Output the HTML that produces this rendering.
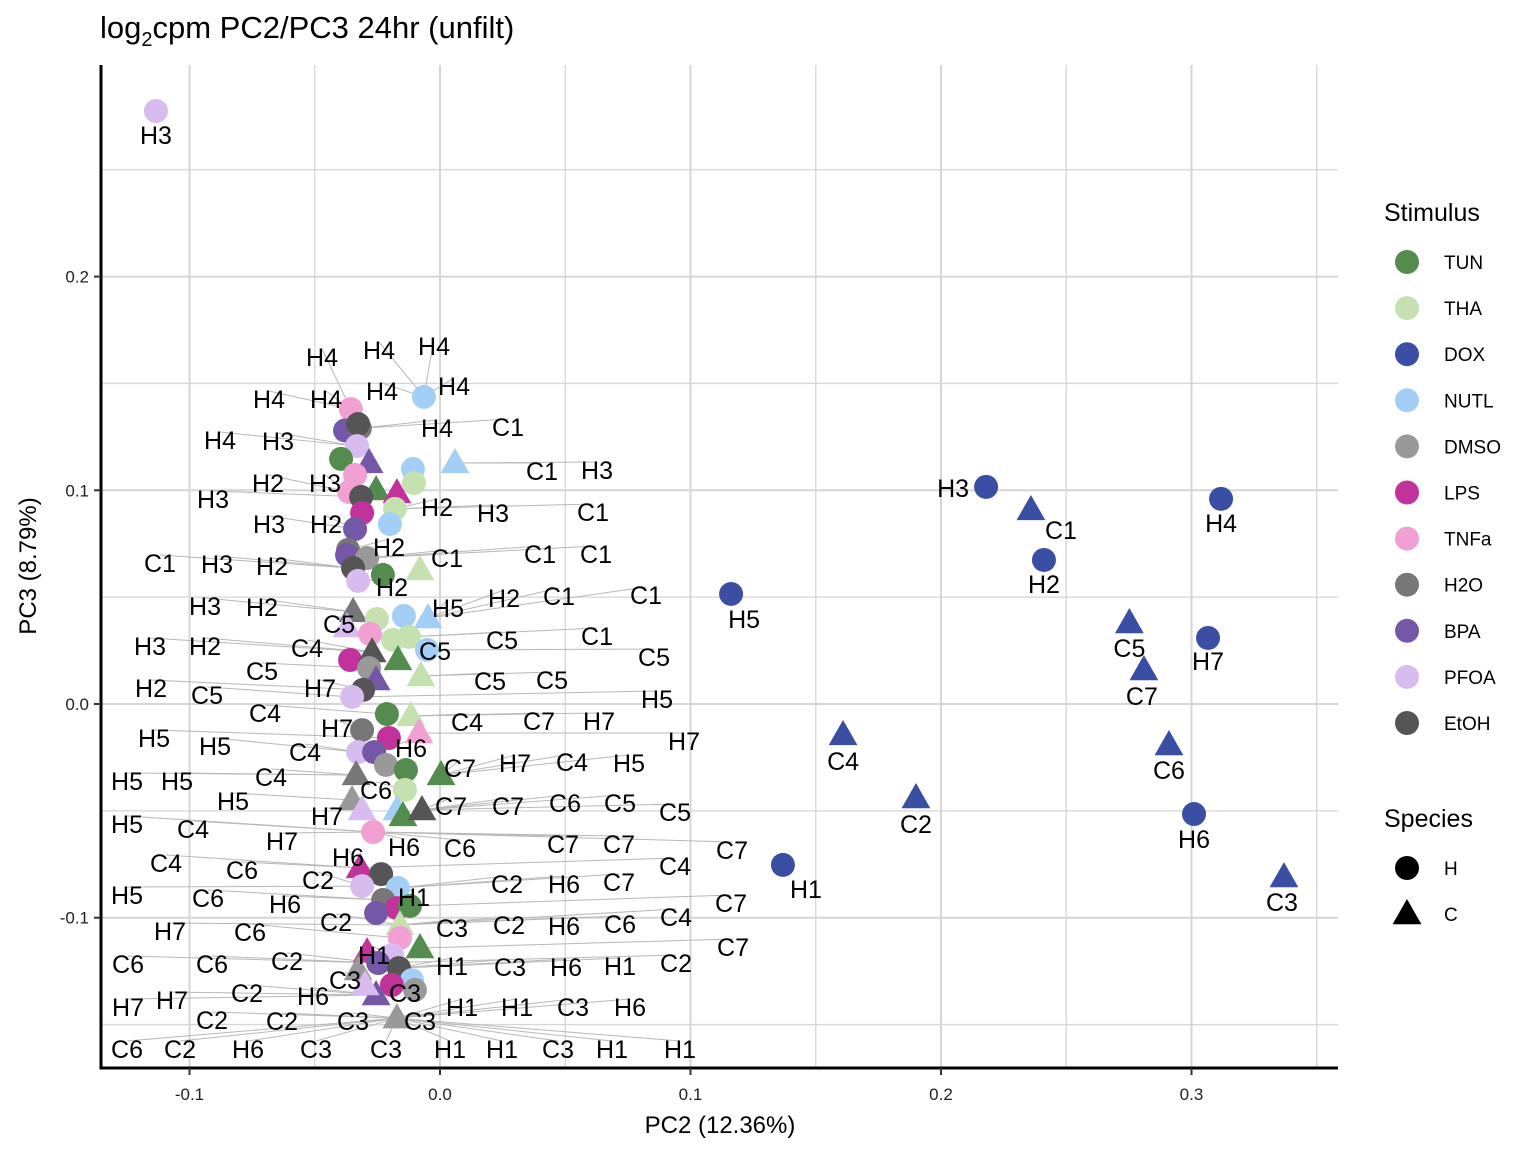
<!DOCTYPE html>
<html><head><meta charset="utf-8"><style>
body{margin:0;background:#fff;}
svg text{font-family:"Liberation Sans",sans-serif;}
</style></head><body>
<svg id="chart" width="1536" height="1152" xmlns="http://www.w3.org/2000/svg">
<rect width="1536" height="1152" fill="#fff"/>
<text x="100" y="38" font-size="31">log<tspan font-size="20" dy="8">2</tspan><tspan dy="-8">cpm PC2/PC3 24hr (unfilt)</tspan></text>
<g id="grid"></g><g id="lines"></g><g id="points"></g><g id="labels"></g><g id="axes"></g>
<text x="720" y="1133" font-size="24" text-anchor="middle">PC2 (12.36%)</text>
<text transform="translate(36,566) rotate(-90)" font-size="24" text-anchor="middle">PC3 (8.79%)</text>
<g id="legend"></g>
</svg>
<script>
const stimuli=["TUN","THA","DOX","NUTL","DMSO","LPS","TNFa","H2O","BPA","PFOA","EtOH"];
const colors={TUN:"#548b4e",THA:"#c5e1b0",DOX:"#3a4ea3",NUTL:"#a3cff6",DMSO:"#999999",LPS:"#c2329b",TNFa:"#f2a0d4",H2O:"#777777",BPA:"#7557a8",PFOA:"#d8bcf0",EtOH:"#555555"};
const xTicks=[-0.1,0,0.1,0.2,0.3];
const xTickLabels=["-0.1","0.0","0.1","0.2","0.3"];
const yTicks=[-0.1,0,0.1,0.2];
const yTickLabels=["-0.1","0.0","0.1","0.2"];
const ptStim=["TNFa","NUTL","BPA","H2O","EtOH","PFOA","TUN","BPA","NUTL","NUTL","TNFa","THA","TUN","LPS","TNFa","EtOH","THA","LPS","NUTL","BPA","H2O","BPA","DMSO","EtOH","TUN","PFOA","THA","H2O","THA","NUTL","NUTL","PFOA","TNFa","THA","THA","NUTL","LPS","EtOH","TUN","THA","DMSO","BPA","EtOH","PFOA","TUN","THA","TNFa","H2O","LPS","PFOA","BPA","DMSO","TUN","TUN","THA","H2O","DMSO","PFOA","NUTL","TUN","EtOH","TNFa","LPS","EtOH","PFOA","NUTL","H2O","LPS","BPA","TUN","THA","TNFa","TUN","LPS","PFOA","BPA","EtOH","NUTL","DMSO","LPS","DMSO","BPA","DMSO","PFOA"];
const ptSpecies=["H","H","H","H","H","H","H","C","H","C","H","H","C","C","H","H","H","H","H","H","H","H","H","H","H","H","C","C","H","H","C","C","H","H","H","H","H","C","C","C","H","C","H","H","H","C","C","H","H","H","H","H","H","C","H","C","C","C","C","C","C","H","C","H","H","H","H","H","H","H","C","H","C","C","H","H","H","H","C","H","H","C","C","C"];
const ptX=[-0.0356,-0.0064,-0.0379,-0.032,-0.0327,-0.0331,-0.0395,-0.0283,-0.0108,0.006,-0.0339,-0.0104,-0.0255,-0.0172,-0.0363,-0.0315,-0.018,-0.0311,-0.020,-0.0339,-0.0367,-0.0371,-0.0291,-0.0347,-0.0228,-0.0327,-0.008,-0.0347,-0.0252,-0.0144,-0.0048,-0.0371,-0.0279,-0.0188,-0.0124,-0.0052,-0.0359,-0.0271,-0.0168,-0.0076,-0.0283,-0.0255,-0.0307,-0.0351,-0.0212,-0.0116,-0.0084,-0.0311,-0.0204,-0.0327,-0.0263,-0.0216,-0.0136,0.0004,-0.014,-0.0335,-0.0351,-0.0311,-0.0172,-0.0148,-0.0072,-0.0267,-0.0319,-0.0235,-0.0311,-0.0168,-0.0227,-0.0172,-0.0255,-0.012,-0.016,-0.016,-0.008,-0.0291,-0.0192,-0.0247,-0.0164,-0.0112,-0.0327,-0.0192,-0.010,-0.0255,-0.0172,-0.0299];
const ptY=[0.138,0.1437,0.128,0.129,0.131,0.1207,0.1147,0.1128,0.110,0.1128,0.1072,0.1034,0.1001,0.0987,0.0992,0.0969,0.0913,0.0894,0.0842,0.0819,0.0721,0.0697,0.0683,0.0636,0.0604,0.0576,0.0627,0.0431,0.0398,0.0412,0.0402,0.036,0.0328,0.030,0.0314,0.0253,0.0206,0.0243,0.0206,0.0131,0.0168,0.0112,0.0066,0.0033,-0.0047,-0.0056,-0.0136,-0.0122,-0.0159,-0.0225,-0.0225,-0.0285,-0.0309,-0.0332,-0.0402,-0.0332,-0.0449,-0.0496,-0.0496,-0.0524,-0.0496,-0.0599,-0.0767,-0.0796,-0.0852,-0.0861,-0.0917,-0.0955,-0.0978,-0.0945,-0.1034,-0.1095,-0.1142,-0.1161,-0.1175,-0.1212,-0.1236,-0.1292,-0.1245,-0.1315,-0.1338,-0.1362,-0.147,-0.1315];
const outText=["H3","H4","H2","H5","H7","H6","H1","C1","C5","C7","C4","C6","C2","C3","H3"];
const outStim=["DOX","DOX","DOX","DOX","DOX","DOX","DOX","DOX","DOX","DOX","DOX","DOX","DOX","DOX","PFOA"];
const outSpecies=["H","H","H","H","H","H","H","C","C","C","C","C","C","C","H"];
const outX=[0.218,0.3118,0.2411,0.1162,0.3066,0.301,0.1369,0.2359,0.2752,0.281,0.1609,0.291,0.19,0.3369,-0.1134];
const outY=[0.1016,0.096,0.0674,0.0515,0.0309,-0.0515,-0.0753,0.0908,0.0379,0.0159,-0.0145,-0.0192,-0.044,-0.081,0.2775];
const outLabelPos=[[-33,2],[0,25],[0,25],[13,26],[0,24],[0,26],[23,25],[30,21],[0,26],[-2,27],[0,27],[0,26],[0,27],[-2,26],[0,25]];
const labelLayout=[
["H4",322,357],["H4",379,350],["H4",434,346],["H4",269,399],["H4",326,399],["H4",382,391],["H4",454,386],["H4",220,440],["H4",437,428],
["H3",278,441],["H3",213,499],["H3",325,483],["H3",597,470],["H3",493,513],["H3",269,524],["H3",217,564],["H3",205,606],["H3",150,646],
["C1",508,427],["C1",542,471],["C1",593,512],["C1",540,554],["C1",596,554],["C1",447,558],["C1",160,563],["C1",646,595],["C1",559,596],["C1",597,636],
["H2",268,483],["H2",437,507],["H2",326,524],["H2",389,547],["H2",272,566],["H2",392,587],["H2",504,598],["H2",262,607],["H2",205,646],["H2",151,688],
["H5",448,608],["H5",657,699],["H5",629,763],["H5",154,738],["H5",215,746],["H5",127,781],["H5",177,781],["H5",127,824],["H5",233,801],["H5",127,895],
["C5",339,624],["C5",502,640],["C5",435,651],["C5",654,657],["C5",262,671],["C5",490,681],["C5",552,680],["C5",207,695],["C5",620,803],["C5",675,812],
["C4",307,648],["C4",265,713],["C4",467,722],["C4",305,752],["C4",572,762],["C4",271,777],["C4",193,829],["C4",166,863],["C4",675,866],["C4",676,917],
["H7",320,688],["H7",337,728],["H7",599,721],["H7",684,741],["H7",515,763],["H7",327,816],["H7",282,841],["H7",170,931],["H7",128,1007],["H7",172,1000],
["C7",539,721],["C7",460,768],["C7",451,806],["C7",508,806],["C7",563,844],["C7",619,844],["C7",732,850],["C7",619,882],["C7",731,903],["C7",733,947],
["H6",411,748],["H6",404,847],["H6",348,857],["H6",285,904],["H6",564,884],["H6",564,926],["H6",566,967],["H6",313,996],["H6",248,1049],["H6",630,1007],
["C6",376,790],["C6",565,803],["C6",460,848],["C6",242,870],["C6",208,898],["C6",250,932],["C6",620,924],["C6",128,964],["C6",212,964],["C6",127,1049],
["C2",318,880],["C2",336,922],["C2",507,884],["C2",509,925],["C2",287,961],["C2",676,963],["C2",247,993],["C2",212,1020],["C2",282,1021],["C2",180,1049],
["H1",414,897],["H1",374,955],["H1",452,966],["H1",620,966],["H1",462,1007],["H1",517,1007],["H1",450,1049],["H1",502,1049],["H1",612,1049],["H1",680,1049],
["C3",452,928],["C3",510,967],["C3",345,980],["C3",405,993],["C3",573,1007],["C3",420,1021],["C3",353,1021],["C3",316,1049],["C3",386,1049],["C3",558,1049]];

const X0=101,X1=1338,Y0=65,Y1=1068;
const xs=v=>440+v*2505;
const ys=v=>704-v*2137;
const NS="http://www.w3.org/2000/svg";
function mk(tag,parent,attrs){const e=document.createElementNS(NS,tag);for(const k in attrs)e.setAttribute(k,attrs[k]);parent.appendChild(e);return e;}
const grid=document.getElementById('grid');
for(let v=-0.1;v<=0.36;v+=0.05){const x=xs(Math.round(v*100)/100);
 const g=mk('line',grid,{x1:x,x2:x,y1:Y0,y2:Y1,stroke:'#d6d6d6','stroke-width':Math.abs(Math.round(v*20))%2===0?2:1.3});
 }
for(let v=-0.15;v<=0.26;v+=0.05){const y=ys(Math.round(v*100)/100);
 const g=mk('line',grid,{x1:X0,x2:X1,y1:y,y2:y,stroke:'#d6d6d6','stroke-width':Math.abs(Math.round(v*20))%2===0?2:1.3});
 }
const axes=document.getElementById('axes');
let a=mk('line',axes,{x1:X0,x2:X0,y1:Y0,y2:Y1+1.5,stroke:'#000','stroke-width':3});

a=mk('line',axes,{x1:X0-1.5,x2:X1,y1:Y1,y2:Y1,stroke:'#000','stroke-width':3});

xTicks.forEach((v,i)=>{const x=xs(v);mk('line',axes,{x1:x,x2:x,y1:Y1,y2:Y1+7,stroke:'#333','stroke-width':2});
 const t=mk('text',axes,{x:x,y:Y1+32,'font-size':17,'text-anchor':'middle',fill:'#222'});t.textContent=xTickLabels[i];
 });
yTicks.forEach((v,i)=>{const y=ys(v);mk('line',axes,{x1:X0-7,x2:X0,y1:y,y2:y,stroke:'#333','stroke-width':2});
 const t=mk('text',axes,{x:X0-12,y:y+6,'font-size':17,'text-anchor':'end',fill:'#222'});t.textContent=yTickLabels[i];
 });

function drawMark(parent,cx,cy,species,col,r){
 let e;
 if(species==="H") e=mk('circle',parent,{cx:cx,cy:cy,r:r,fill:col});
 else e=mk('polygon',parent,{points:`${cx},${cy-r*1.25} ${cx-r*1.2},${cy+r*0.85} ${cx+r*1.2},${cy+r*0.85}`,fill:col});
 return e;}
const pts=document.getElementById('points'),lines=document.getElementById('lines'),labs=document.getElementById('labels');
const clusterPx=ptX.map((v,i)=>[xs(v),ys(ptY[i])]);
labelLayout.forEach(l=>{
 let best=0,bd=1e9;clusterPx.forEach((p,i)=>{const d=Math.abs(p[1]-l[2])*1.5+Math.abs(p[0]-l[1])*0.3;if(d<bd){bd=d;best=i;}});
 const p=clusterPx[best];
 const ln=mk('line',lines,{x1:l[1],y1:l[2]-8,x2:p[0],y2:p[1],stroke:'#b8b8b8','stroke-width':1});
 
});
ptX.forEach((v,i)=>{const e=drawMark(pts,xs(v),ys(ptY[i]),ptSpecies[i],colors[ptStim[i]],12);
 
 });
outX.forEach((v,i)=>{const cx=xs(v),cy=ys(outY[i]);
 const e=drawMark(pts,cx,cy,outSpecies[i],colors[outStim[i]],12);
 
 
 const t=mk('text',labs,{x:cx+outLabelPos[i][0],y:cy+outLabelPos[i][1]+8,'font-size':25,'text-anchor':'middle'});
 t.textContent=outText[i];
 });
labelLayout.forEach(l=>{const t=mk('text',labs,{x:l[1],y:l[2]+9,'font-size':25,'text-anchor':'middle'});t.textContent=l[0];
 });

const lg=document.getElementById('legend');
let t=mk('text',lg,{x:1384,y:221,'font-size':25});t.textContent="Stimulus";

stimuli.forEach((s,i)=>{const y=262+i*46.1;
 const c=mk('circle',lg,{cx:1407,cy:y,r:12,fill:colors[s]});
 
 const tt=mk('text',lg,{x:1444,y:y+7,'font-size':19});tt.textContent=s;
 });
t=mk('text',lg,{x:1384,y:827,'font-size':25});t.textContent="Species";

[["H",868],["C",914]].forEach(s=>{const e=drawMark(lg,1407,s[1],s[0],'#000',12);
 
 const tt=mk('text',lg,{x:1444,y:s[1]+7,'font-size':19});tt.textContent=s[0];
 });
</script>
</body></html>
